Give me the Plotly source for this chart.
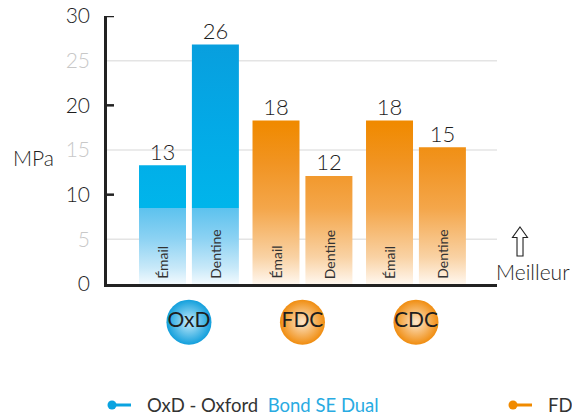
import plotly.graph_objects as go

# ---- data ----
groups = ["OxD", "FDC", "CDC"]
series = ["Émail", "Dentine"]
values = {
    "OxD": [13.3, 26.8],
    "FDC": [18.3, 12.1],
    "CDC": [18.3, 15.3],
}
value_labels = {
    "OxD": ["13", "26"],
    "FDC": ["18", "12"],
    "CDC": ["18", "15"],
}
y_tick_vals = [0, 5, 10, 15, 20, 25, 30]
y_major = [0, 10, 20, 30]
y_grid = [5, 15, 25]
legend_texts = ["OxD - Oxford  <span style='color:#29abe2'>Bond SE Dual</span>", "FDC"]

# ---- layout geometry (reference pixel coords) ----
W, H = 572, 416
PL, PR, PT, PB = 107, 497, 16, 345   # paper box in pixels
YB = 284                             # y=0 line in pixels


def px(x):
    return (x - PL) / (PR - PL)


def py(y):
    return (PB - y) / (PB - PT)


main_dom = [(PB - YB) / (PB - PT), 1.0]
circle_y = (PB - 322) / (PB - YB)

FONT = "Lato"
blue_scale = [[0, "#f2fafe"], [0.06, "#c8e9f9"], [0.17, "#8cd2f3"], [0.285, "#5cc2ee"],
              [0.2854, "#00b5eb"], [0.6, "#03a9e6"], [1.0, "#0a9bdb"]]
orange_scale = [[0, "#fff7ee"], [0.1, "#f9d2a4"], [0.283, "#f4a64a"], [0.45, "#f19422"],
                [0.6, "#f08a00"], [1.0, "#f08a00"]]
group_scale = {"OxD": blue_scale, "FDC": orange_scale, "CDC": orange_scale}
circle_edge = {"OxD": "#129fdc", "FDC": "#f08d10", "CDC": "#f08d10"}
circle_center = {"OxD": "#c4ebfb", "FDC": "#fde6cb", "CDC": "#fde6cb"}
offsets = [-0.233, 0.233]
half_w = 0.207
x_range = [-0.722, 2.714]

fig = go.Figure()

for gi, g in enumerate(groups):
    for si, s in enumerate(series):
        v = values[g][si]
        xc = gi + offsets[si]
        x0, x1 = xc - half_w, xc + half_w
        fig.add_trace(go.Scatter(
            x=[x0, x0, x1, x1, x0], y=[0, v, v, 0, 0],
            mode="lines", fill="toself", line=dict(width=0),
            fillgradient=dict(type="vertical", colorscale=group_scale[g], start=0, stop=30),
            hoverinfo="skip", showlegend=False,
        ))
        fig.add_trace(go.Scatter(
            x=[xc], y=[v], mode="text", text=[value_labels[g][si]],
            textposition="top center", textfont=dict(family=FONT, size=22, color="#1e1e1e", weight=300),
            showlegend=False, hoverinfo="skip", cliponaxis=False,
        ))
        fig.add_annotation(x=xc, y=0.35, text=s, textangle=-90, showarrow=False,
                           xanchor="center", yanchor="bottom",
                           font=dict(family=FONT, size=14, color="#333"))

# circles with group names (own small axis below the chart)
fig.add_trace(go.Scatter(
    x=list(range(len(groups))), y=[circle_y] * len(groups),
    xaxis="x2", yaxis="y2", mode="markers+text",
    text=groups, textposition="middle center",
    textfont=dict(family=FONT, size=21, color="#1e1e1e"),
    marker=dict(size=45, color=[circle_edge[g] for g in groups],
                gradient=dict(type="radial", color=[circle_center[g] for g in groups]),
                line=dict(width=0)),
    cliponaxis=False, showlegend=False, hoverinfo="skip",
))

shapes = []
for gv in y_grid:
    shapes.append(dict(type="line", xref="paper", yref="y", x0=0, x1=1, y0=gv, y1=gv,
                       line=dict(color="#e4e4e4", width=1.5), layer="below"))
for mv in y_major[1:]:
    shapes.append(dict(type="line", xref="paper", yref="y", x0=0, x1=px(114), y0=mv, y1=mv,
                       line=dict(color="#222", width=2.5)))

# legend (bottom, custom)
leg_colors = ["#0aa3e0", "#f08a00"]
leg_px = [112, 513]
leg_py = 405
for i, c in enumerate(leg_colors):
    shapes.append(dict(type="line", xref="paper", yref="paper", x0=px(leg_px[i]), x1=px(leg_px[i] + 19),
                       y0=py(leg_py), y1=py(leg_py), line=dict(color=c, width=3)))
    shapes.append(dict(type="circle", xref="paper", yref="paper",
                       x0=px(leg_px[i] - 4.5), x1=px(leg_px[i] + 4.5),
                       y0=py(leg_py + 4.5), y1=py(leg_py - 4.5),
                       fillcolor=c, line=dict(width=0)))
    fig.add_annotation(xref="paper", yref="paper", x=px(leg_px[i] + 33), y=py(leg_py),
                       text=legend_texts[i], showarrow=False, xanchor="left", yanchor="middle",
                       font=dict(family=FONT, size=18.5, color="#333"))

# outlined up arrow
arrow = [(520, 227), (527.5, 237.5), (523, 237.5), (523, 256), (517, 256), (517, 237.5), (512.5, 237.5)]
path = "M " + " L ".join(f"{px(a):.4f},{py(b):.4f}" for a, b in arrow) + " Z"
shapes.append(dict(type="path", xref="paper", yref="paper", path=path,
                   line=dict(color="#222", width=1.1), fillcolor="white"))

# MPa and Meilleur
fig.add_annotation(xref="paper", yref="paper", x=px(33), y=py(157), xanchor="center", yanchor="middle",
                   text="MPa", showarrow=False, font=dict(family=FONT, size=21, color="#1e1e1e", weight=300))
fig.add_annotation(xref="paper", yref="paper", x=px(533), y=py(271), xanchor="center", yanchor="middle",
                   text="Meilleur", showarrow=False, font=dict(family=FONT, size=21, color="#1e1e1e", weight=300))

tick_text = []
for v in y_tick_vals:
    if v in y_major:
        tick_text.append(str(v))
    else:
        tick_text.append(f"<span style='color:#c8c8c8'>{v}</span>")

fig.update_layout(
    width=W, height=H,
    margin=dict(l=PL, r=W - PR, t=PT, b=H - PB),
    paper_bgcolor="white", plot_bgcolor="white",
    shapes=shapes,
    xaxis=dict(range=x_range, showgrid=False, zeroline=False, showticklabels=False,
               showline=True, linecolor="#222", linewidth=3, ticks="", automargin=False,
               anchor="y"),
    yaxis=dict(range=[0, 30], domain=main_dom, tickvals=y_tick_vals, ticktext=tick_text,
               showgrid=False, zeroline=False, showline=True, linecolor="#222",
               linewidth=2.5, ticks="", ticklabelstandoff=10, automargin=False,
               ticklabeloverflow="allow",
               tickfont=dict(family=FONT, size=21, color="#1e1e1e", weight=300)),
    xaxis2=dict(range=x_range, visible=False, anchor="y2"),
    yaxis2=dict(range=[0, 1], domain=[0, main_dom[0] - 0.001], visible=False, anchor="x2"),
)

fig.write_html("out.html", config={"displayModeBar": False},
               post_script=["document.body.style.margin='0';"])
